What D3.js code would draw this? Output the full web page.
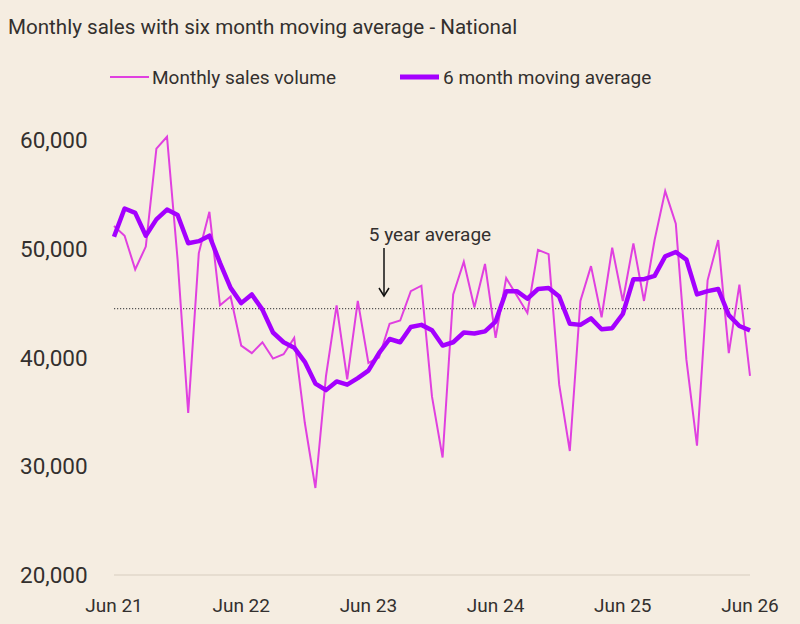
<!DOCTYPE html>
<html>
<head>
<meta charset="utf-8">
<script src="https://cdn.jsdelivr.net/npm/d3@7"></script>
<style>
  body { margin: 0; background: #f5ede1; }
  svg { display: block; }
  text { font-family: "Roboto", sans-serif; fill: #33302e; }
</style>
</head>
<body>
<div id="chart"></div>
<script>
// monthly values, Jun 21 .. Jun 26
const salesVolume = [
  52100, 51200, 48100, 50200, 59200, 60300, 49000, 34900, 49600, 53400,
  44800, 45600, 41100, 40400, 41400, 39900, 40300, 41800, 34000, 28000,
  38300, 44800, 38000, 45200, 39500, 40000, 43100, 43400, 46100, 46600,
  36400, 30800, 45800, 48800, 44600, 48600, 41800, 47300, 45700, 44100,
  49900, 49500, 37500, 31400, 45200, 48400, 43700, 50100, 45200, 50500,
  45200, 50800, 55300, 52300, 39800, 31900, 47100, 50800, 40400, 46700,
  38300
];
const movingAverage = [
  51100, 53700, 53300, 51200, 52700, 53600, 53100, 50500, 50700, 51200,
  48700, 46400, 45000, 45800, 44400, 42300, 41400, 40900, 39600, 37600,
  37000, 37800, 37500, 38100, 38800, 40400, 41700, 41400, 42800, 43000,
  42500, 41100, 41400, 42300, 42200, 42400, 43300, 46100, 46100, 45400,
  46300, 46400, 45600, 43100, 43000, 43600, 42600, 42700, 44000, 47200,
  47200, 47500, 49300, 49700, 49000, 45800, 46100, 46300, 43900, 42900,
  42500
];
const fiveYearAverage = 44500;
const xTickIndex = [0, 12, 24, 36, 48, 60];
const xTickLabels = ["Jun 21", "Jun 22", "Jun 23", "Jun 24", "Jun 25", "Jun 26"];
const yTicks = [20000, 30000, 40000, 50000, 60000];
const seriesNames = ["Monthly sales volume", "6 month moving average"];

const width = 800, height = 624;
const pink = "#e040e0", purple = "#a400ff";

const svg = d3.select("#chart").append("svg")
  .attr("width", width)
  .attr("height", height);

svg.append("rect").attr("width", width).attr("height", height).attr("fill", "#f5ede1");

const x = d3.scaleLinear().domain([0, 60]).range([114, 750]);
const y = d3.scaleLinear().domain([20000, 60000]).range([575, 140]);

// title
svg.append("text")
  .attr("x", 8).attr("y", 34)
  .attr("font-size", 20.6)
  .text("Monthly sales with six month moving average - National");

// legend
const legend = svg.append("g");
legend.append("line").attr("x1", 110).attr("x2", 149).attr("y1", 77).attr("y2", 77)
  .attr("stroke", pink).attr("stroke-width", 2);
legend.append("text").attr("x", 152).attr("y", 84).attr("font-size", 19).text(seriesNames[0]);
legend.append("line").attr("x1", 400).attr("x2", 439).attr("y1", 77).attr("y2", 77)
  .attr("stroke", purple).attr("stroke-width", 5);
legend.append("text").attr("x", 443).attr("y", 84).attr("font-size", 19).text(seriesNames[1]);

// y axis labels (no gridlines other than the baseline)
svg.append("g").selectAll("text")
  .data(yTicks)
  .join("text")
  .attr("x", 20)
  .attr("y", d => y(d) + 8)
  .attr("font-size", 22.5)
  .text(d => d3.format(",")(d));

svg.append("line")
  .attr("x1", x(0)).attr("x2", x(60))
  .attr("y1", y(20000)).attr("y2", y(20000))
  .attr("stroke", "#e6ddd0").attr("stroke-width", 2);

// x axis labels
svg.append("g").selectAll("text")
  .data(xTickIndex)
  .join("text")
  .attr("x", d => x(d))
  .attr("y", 612)
  .attr("text-anchor", "middle")
  .attr("font-size", 19)
  .text((d, i) => xTickLabels[i]);

// 5 year average reference line
svg.append("line")
  .attr("x1", x(0)).attr("x2", x(60))
  .attr("y1", y(fiveYearAverage)).attr("y2", y(fiveYearAverage))
  .attr("stroke", "#555").attr("stroke-width", 1.2)
  .attr("stroke-dasharray", "1.2,1.8");

// annotation
svg.append("text")
  .attr("x", 430).attr("y", 241)
  .attr("text-anchor", "middle")
  .attr("font-size", 19)
  .text("5 year average");
svg.append("line")
  .attr("x1", 384).attr("x2", 384).attr("y1", 248).attr("y2", 295)
  .attr("stroke", "#111").attr("stroke-width", 1.5);
svg.append("path")
  .attr("d", "M379,288 L384,296 L389,288")
  .attr("fill", "none").attr("stroke", "#111").attr("stroke-width", 1.5);

const line = d3.line()
  .x((d, i) => x(i))
  .y(d => y(d));

svg.append("path")
  .datum(salesVolume)
  .attr("d", line)
  .attr("fill", "none")
  .attr("stroke", pink)
  .attr("stroke-width", 2)
  .attr("stroke-linejoin", "miter");

svg.append("path")
  .datum(movingAverage)
  .attr("d", line)
  .attr("fill", "none")
  .attr("stroke", purple)
  .attr("stroke-width", 4.5)
  .attr("stroke-linejoin", "round");
</script>
</body>
</html>
